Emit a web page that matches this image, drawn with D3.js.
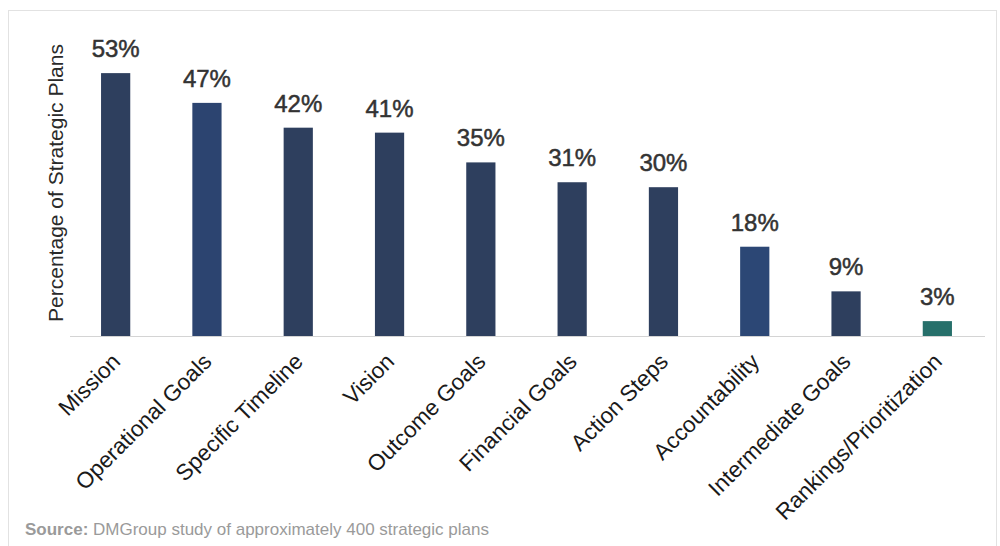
<!DOCTYPE html>
<html><head><meta charset="utf-8">
<script src="https://cdn.jsdelivr.net/npm/d3@7"></script>
<style>body{margin:0;background:#fff;} svg{display:block;font-family:"Liberation Sans",Arial,sans-serif;}</style>
</head><body><div id="chart"></div>
<script>
const categories = ["Mission","Operational Goals","Specific Timeline","Vision","Outcome Goals","Financial Goals","Action Steps","Accountability","Intermediate Goals","Rankings/Prioritization"];
const values = [53,47,42,41,35,31,30,18,9,3];
const valueLabels = ["53%","47%","42%","41%","35%","31%","30%","18%","9%","3%"];
const barColors = ["#2e3f5e","#2c4470","#2e3f5e","#2e3f5e","#2e3f5e","#2e3f5e","#2e3f5e","#2c4775","#2e3f5e","#27706b"];
const yTitle = "Percentage of Strategic Plans";
const sourceBold = "Source:";
const sourceText = " DMGroup study of approximately 400 strategic plans";

const W = 1000, H = 546;
const svg = d3.select("#chart").append("svg").attr("width", W).attr("height", H);

svg.append("rect").attr("x",8.5).attr("y",10.5).attr("width",988).attr("height",540)
  .attr("fill","none").attr("stroke","#e2e2e2").attr("stroke-width",1);

const x = d3.scaleBand().domain(categories).range([70, 983]).paddingInner(0.68).paddingOuter(0.34);
const y = d3.scaleLinear().domain([0, 60]).range([336, 336 - 60*4.96]);

// baseline
svg.append("line").attr("x1",70).attr("x2",985).attr("y1",y(0)+0.5).attr("y2",y(0)+0.5)
  .attr("stroke","#d4d4d4").attr("stroke-width",1);

svg.selectAll("rect.bar").data(categories).enter().append("rect").attr("class","bar")
  .attr("x", d => x(d)).attr("width", x.bandwidth())
  .attr("y", (d,i) => y(values[i])).attr("height", (d,i) => y(0) - y(values[i]))
  .attr("fill", (d,i) => barColors[i]);

svg.selectAll("text.val").data(categories).enter().append("text").attr("class","val")
  .attr("x", d => x(d) + x.bandwidth()/2)
  .attr("y", (d,i) => y(values[i]) - 16)
  .attr("text-anchor","middle").attr("font-size",24).attr("fill","#333")
  .attr("stroke","#333").attr("stroke-width",0.5)
  .text((d,i) => valueLabels[i]);

// x axis labels
const xAxis = d3.axisBottom(x).tickSize(0).tickPadding(0);
const gx = svg.append("g").attr("transform", `translate(0,${y(0)})`).call(xAxis);
gx.select(".domain").remove();
gx.selectAll(".tick text")
  .attr("font-size",22.5).attr("font-family","Liberation Sans, Arial, sans-serif").attr("fill","#1a1a1a")
  .attr("text-anchor","end").attr("dy",0)
  .attr("transform","translate(6,27) rotate(-45)");

svg.append("text").attr("transform","translate(63,183) rotate(-90)")
  .attr("text-anchor","middle").attr("font-size",21).attr("fill","#2a2a2a").text(yTitle);

const src = svg.append("text").attr("x",25).attr("y",535).attr("font-size",17).attr("fill","#9a9a9a");
src.append("tspan").attr("font-weight","bold").text(sourceBold);
src.append("tspan").text(sourceText);
</script></body></html>
